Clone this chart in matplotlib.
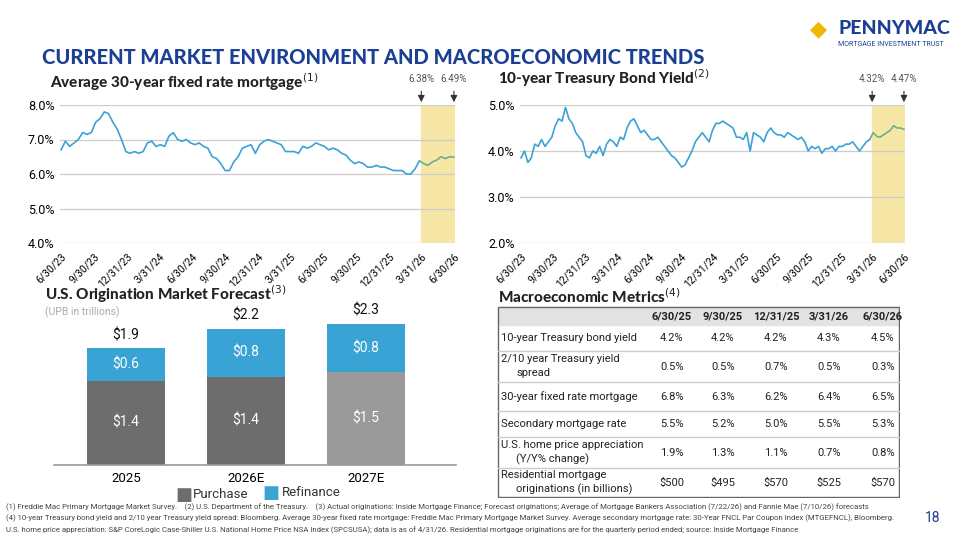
import matplotlib
matplotlib.use("Agg")
import matplotlib.pyplot as plt
import numpy as np
import pandas as pd

plt.rcParams['font.family'] = ['Roboto', 'DejaVu Sans']

mortgage = [6.7, 6.95, 6.8, 6.9, 7.0, 7.2, 7.15, 7.2, 7.5, 7.6, 7.8, 7.75, 7.5, 7.3, 7.0, 6.65,
            6.6, 6.65, 6.6, 6.65, 6.9, 6.95, 6.8, 6.85, 6.8, 7.1, 7.2, 7.0, 6.95, 7.0, 6.9, 6.85,
            6.9, 6.8, 6.75, 6.5, 6.45, 6.3, 6.1, 6.1, 6.35, 6.5, 6.75, 6.8, 6.85, 6.6, 6.85, 6.95,
            7.0, 6.95, 6.9, 6.85, 6.65, 6.65, 6.65, 6.6, 6.8, 6.75, 6.8, 6.9, 6.85, 6.8, 6.7, 6.75,
            6.7, 6.6, 6.55, 6.4, 6.3, 6.35, 6.3, 6.2, 6.2, 6.25, 6.2, 6.2, 6.15, 6.1, 6.1, 6.1,
            6.0, 6.0, 6.15, 6.38, 6.3, 6.25, 6.35, 6.4, 6.5, 6.45, 6.5, 6.49]
treasury = [3.85, 4.0, 3.75, 3.85, 4.15, 4.1, 4.25, 4.1, 4.2, 4.3, 4.55, 4.7, 4.65, 4.95, 4.7, 4.6,
            4.4, 4.3, 4.2, 3.9, 3.85, 4.0, 3.95, 4.1, 3.9, 4.15, 4.25, 4.2, 4.1, 4.3, 4.25, 4.5,
            4.65, 4.7, 4.55, 4.4, 4.45, 4.35, 4.25, 4.25, 4.3, 4.2, 4.1, 4.0, 3.9, 3.85, 3.75, 3.65,
            3.7, 3.85, 4.0, 4.2, 4.3, 4.4, 4.3, 4.2, 4.45, 4.6, 4.6, 4.65, 4.6, 4.55, 4.5, 4.3,
            4.3, 4.25, 4.4, 4.0, 4.4, 4.35, 4.3, 4.2, 4.4, 4.5, 4.4, 4.35, 4.35, 4.3, 4.4, 4.35,
            4.3, 4.25, 4.3, 4.2, 4.0, 4.1, 4.05, 4.1, 3.95, 4.05, 4.05, 4.1, 4.0, 4.1, 4.1, 4.15,
            4.15, 4.2, 4.1, 4.0, 4.1, 4.2, 4.25, 4.4, 4.32, 4.3, 4.35, 4.4, 4.45, 4.55, 4.5, 4.5, 4.47]
tick_labels = ['6/30/23', '9/30/23', '12/31/23', '3/31/24', '6/30/24', '9/30/24', '12/31/24',
               '3/31/25', '6/30/25', '9/30/25', '12/31/25', '3/31/26', '6/30/26']

years = ['2025', '2026E', '2027E']
purchase = [1.40, 1.47, 1.55]
refinance = [0.55, 0.80, 0.80]
purchase_lbl = ['$1.4', '$1.4', '$1.5']
refi_lbl = ['$0.6', '$0.8', '$0.8']
total_lbl = ['$1.9', '$2.2', '$2.3']

tbl_cols = ['6/30/25', '9/30/25', '12/31/25', '3/31/26', '6/30/26']
tbl_rows = [('10-year Treasury bond yield', None), ('2/10 year Treasury yield', 'spread'),
            ('30-year fixed rate mortgage', None), ('Secondary mortgage rate', None),
            ('U.S. home price appreciation', '(Y/Y% change)'),
            ('Residential mortgage', 'originations (in billions)')]
tbl_vals = [['4.2%', '4.2%', '4.2%', '4.3%', '4.5%'],
            ['0.5%', '0.5%', '0.7%', '0.5%', '0.3%'],
            ['6.8%', '6.3%', '6.2%', '6.4%', '6.5%'],
            ['5.5%', '5.2%', '5.0%', '5.5%', '5.3%'],
            ['1.9%', '1.3%', '1.1%', '0.7%', '0.8%'],
            ['$500', '$495', '$570', '$525', '$570']]

W, H = 960, 540
fig = plt.figure(figsize=(9.6, 5.4), dpi=100)
def rect(x0, y0, x1, y1):
    return [x0 / W, 1 - y1 / H, (x1 - x0) / W, (y1 - y0) / H]
def ftext(x, y, s, **kw):
    fig.text(x / W, 1 - y / H, s, **kw)

NAVY = '#1b3f94'
BLUE = '#3aa3d6'
GREEN = '#6fae8c'
HL = '#f6e7a6'
HF = ['Lato', 'DejaVu Sans']

ftext(42, 58, 'CURRENT MARKET ENVIRONMENT AND MACROECONOMIC TRENDS', fontsize=14.5,
      fontweight='black', color=NAVY, va='center', family=HF)
ftext(838, 28, 'PENNYMAC', fontsize=14, fontweight='black', color=NAVY, va='center', family=HF)
ftext(838, 44, 'MORTGAGE INVESTMENT TRUST', fontsize=5, color=NAVY, va='center')
ftext(818, 30, '◆', fontsize=16, color='#f2b705', va='center', ha='center')

start = pd.Timestamp('2023-06-30')
end = pd.Timestamp('2026-06-30')
qt = pd.to_datetime(['2023-06-30', '2023-09-30', '2023-12-31', '2024-03-31', '2024-06-30',
                     '2024-09-30', '2024-12-31', '2025-03-31', '2025-06-30', '2025-09-30',
                     '2025-12-31', '2026-03-31', '2026-06-30'])
hl0 = pd.Timestamp('2026-03-31')

def line_chart(r, vals, ylo, yhi, ticks, arrows):
    ax = fig.add_axes(r)
    d = pd.date_range(start, end, periods=len(vals))
    v = np.array(vals)
    idx = np.where(d <= hl0)[0][-1]
    ax.axvspan(hl0, end, color=HL, zorder=0)
    ax.plot(d[:idx + 1], v[:idx + 1], color=BLUE, lw=1.2, zorder=3)
    ax.plot(d[idx:], v[idx:], color=GREEN, lw=1.2, zorder=3)
    ax.set_ylim(ylo, yhi)
    ax.set_xlim(start - pd.Timedelta(days=3), end + pd.Timedelta(days=3))
    ax.set_yticks(ticks)
    ax.set_yticklabels([f'{t:.1f}%' for t in ticks], fontsize=9)
    ax.grid(axis='y', color='#cccccc', lw=0.9)
    ax.set_axisbelow(True)
    ax.set_xticks(qt)
    ax.set_xticklabels(tick_labels, rotation=45, ha='right', rotation_mode='anchor', fontsize=7.5)
    ax.tick_params(length=0, pad=4)
    ax.tick_params(axis='x', pad=6)
    for s in ax.spines.values():
        s.set_visible(False)
    for dt, lab in zip([hl0, end], arrows):
        ax.annotate('', xy=(dt, yhi), xytext=(dt, yhi + (yhi - ylo) * 0.12),
                    arrowprops=dict(arrowstyle='-|>', color='#333', lw=0.8), annotation_clip=False)
        ax.text(dt, yhi + (yhi - ylo) * 0.15, lab, fontsize=7, color='#555', ha='center',
                va='bottom', clip_on=False)
    return ax

line_chart(rect(60, 105, 455, 243), mortgage, 4.0, 8.0, [4, 5, 6, 7, 8], ['6.38%', '6.49%'])
line_chart(rect(520, 105, 905, 243), treasury, 2.0, 5.0, [2, 3, 4, 5], ['4.32%', '4.47%'])
ftext(50, 82, 'Average 30-year fixed rate mortgage$^{(1)}$', fontsize=11, fontweight='black',
      va='center', color='#222', family=HF)
ftext(498, 78, '10-year Treasury Bond Yield$^{(2)}$', fontsize=11, fontweight='black',
      va='center', color='#222', family=HF)

# Bars
ftext(45, 294, 'U.S. Origination Market Forecast$^{(3)}$', fontsize=11, fontweight='black',
      va='center', color='#222', family=HF)
ftext(45, 312, '(UPB in trillions)', fontsize=7.5, color='#aaa', va='center')
axb = fig.add_axes(rect(54, 318, 456, 465))
x = np.arange(3)
pcol = ['#6d6d6d', '#6d6d6d', '#9a9a9a']
axb.bar(x, purchase, width=0.65, color=pcol)
axb.bar(x, refinance, bottom=purchase, width=0.65, color=BLUE)
for i in x:
    axb.text(i, purchase[i] / 2, purchase_lbl[i], ha='center', va='center', color='white', fontsize=10)
    axb.text(i, purchase[i] + refinance[i] / 2, refi_lbl[i], ha='center', va='center', color='white', fontsize=10)
    axb.text(i, purchase[i] + refinance[i] + 0.1, total_lbl[i], ha='center', va='bottom',
             color='#111', fontsize=10, clip_on=False)
axb.set_xlim(-0.6, 2.75)
axb.set_ylim(0, 2.45)
axb.set_yticks([])
axb.set_xticks(x)
axb.set_xticklabels(years, fontsize=9.5)
axb.tick_params(length=0, pad=5)
for k in ['top', 'right', 'left']:
    axb.spines[k].set_visible(False)
axb.spines['bottom'].set_color('#999')
axb.spines['bottom'].set_linewidth(1.2)
ftext(175, 495, '■', fontsize=13, color='#6d6d6d', va='center', ha='left')
ftext(193, 495, 'Purchase', fontsize=9.5, va='center', color='#333')
ftext(262, 493, '■', fontsize=13, color=BLUE, va='center', ha='left')
ftext(282, 493, 'Refinance', fontsize=9.5, va='center', color='#333')

# Table
ftext(498, 297, 'Macroeconomic Metrics$^{(4)}$', fontsize=11, fontweight='black',
      va='center', color='#222', family=HF)
axt = fig.add_axes(rect(497, 306, 900, 498))
axt.set_xlim(497, 900)
axt.set_ylim(498, 306)
axt.axis('off')
axt.add_patch(plt.Rectangle((498, 307), 401, 18, color='#e3e3e3', zorder=0))
axt.add_patch(plt.Rectangle((498, 307), 401, 190, fill=False, ec='#666', lw=1))
bounds = [325, 351, 382, 411, 437, 468, 497]
colx = [672, 723, 776, 829, 883]
for cx, c in zip(colx, tbl_cols):
    axt.text(cx, 316, c, ha='center', va='center', fontsize=8, fontweight='bold', color='#222')
for i, ((a, b), vals) in enumerate(zip(tbl_rows, tbl_vals)):
    y0, y1 = bounds[i], bounds[i + 1]
    yc = (y0 + y1) / 2
    if i < 5:
        axt.plot([498, 899], [y1, y1], color='#ccc', lw=1)
    if b is None:
        axt.text(501, yc, a, va='center', fontsize=8, color='#222')
    else:
        axt.text(501, yc - 7, a, va='center', fontsize=8, color='#222')
        axt.text(516, yc + 7, b, va='center', fontsize=8, color='#222')
    for cx, v in zip(colx, vals):
        axt.text(cx, yc, v, ha='center', va='center', fontsize=8, color='#222')

foot = ['(1) Freddie Mac Primary Mortgage Market Survey.    (2) U.S. Department of the Treasury.    (3) Actual originations: Inside Mortgage Finance; Forecast originations; Average of Mortgage Bankers Association (7/22/26) and Fannie Mae (7/10/26) forecasts',
        '(4) 10-year Treasury bond yield and 2/10 year Treasury yield spread: Bloomberg. Average 30-year fixed rate mortgage: Freddie Mac Primary Mortgage Market Survey. Average secondary mortgage rate: 30-Year FNCL Par Coupon Index (MTGEFNCL), Bloomberg.',
        'U.S. home price appreciation: S&P CoreLogic Case-Shiller U.S. National Home Price NSA Index (SPCSUSA); data is as of 4/31/26. Residential mortgage originations are for the quarterly period ended; source: Inside Mortgage Finance']
for k, s in enumerate(foot):
    ftext(6, 507 + k * 11.5, s, fontsize=5.6, color='#444', va='center')
ftext(940, 518, '18', fontsize=10, color=NAVY, va='center', ha='right')

fig.savefig('out.png', dpi=100)
